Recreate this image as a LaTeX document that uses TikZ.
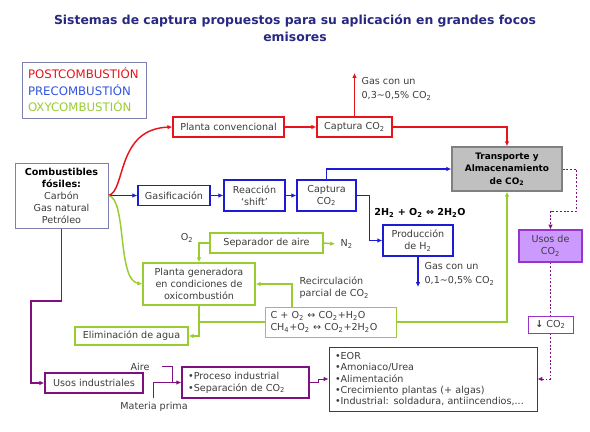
\documentclass[tikz,border=0pt]{standalone}
\usepackage{fontspec}
\setmainfont{DejaVu Sans}
\usetikzlibrary{arrows.meta}
\definecolor{rojo}{RGB}{232,20,28}
\definecolor{azul}{RGB}{28,28,215}
\definecolor{azulclaro}{RGB}{51,85,221}
\definecolor{verde}{RGB}{153,204,51}
\definecolor{morado}{RGB}{128,16,128}
\definecolor{lila}{RGB}{204,153,255}
\definecolor{lilaborde}{RGB}{153,51,204}
\definecolor{grisfondo}{RGB}{192,192,192}
\definecolor{grisborde}{RGB}{128,128,128}
\definecolor{leyendaborde}{RGB}{128,128,176}
\definecolor{titulo}{RGB}{40,40,130}
\definecolor{textogris}{RGB}{60,60,60}
\newcommand{\codos}{CO\textsubscript{2}}

\begin{document}
\begin{tikzpicture}[x=0.75pt,y=0.75pt,yscale=-1,xscale=1,
  caja/.style={draw, fill=white, line width=1.1pt, inner sep=1pt, align=center,
    font=\fontsize{7.2}{9}\selectfont, text=textogris},
  etiqueta/.style={inner sep=1pt, align=left, font=\fontsize{7.2}{9}\selectfont, text=textogris},
  flecha/.style={-{Latex[length=3.6pt,width=3.4pt]}},
  linearoja/.style={draw=rojo, line width=1.1pt, flecha},
  lineaazul/.style={draw=azul, line width=1.1pt, flecha},
  lineaverde/.style={draw=verde, line width=1.1pt, flecha},
  lineamorada/.style={draw=morado, line width=1.1pt, flecha},
  lineafina/.style={draw=morado, line width=0.6pt},
  punteado/.style={draw=morado, line width=0.6pt, dash pattern=on 1.4pt off 1.4pt, flecha}]
\path[use as bounding box] (0,0) rectangle (590,432);

% Title
\node (titulo) at (295,28.5) [align=center, text=titulo, font=\fontsize{9.3}{12.75}\selectfont\bfseries]
  {Sistemas de captura propuestos para su aplicación en grandes focos\\emisores};

%Shape: Legend
\node (leyenda) at (84,90) [draw=leyendaborde, line width=0.75pt, minimum width=93pt, minimum height=42pt,
  text width=84pt, align=left, inner sep=0pt, font=\fontsize{8.8}{12.3}\selectfont]
  {\textcolor{rojo}{POSTCOMBUSTIÓN}\\\textcolor{azulclaro}{PRECOMBUSTIÓN}\\\textcolor{verde}{OXYCOMBUSTIÓN}};

%Shape: Boxes
\node (combustibles) at (61.5,195.5) [caja, draw=leyendaborde, line width=0.75pt, minimum width=69.75pt, minimum height=48.75pt]
  {\textcolor{black}{\textbf{Combustibles}}\\\textcolor{black}{\textbf{fósiles:}}\\Carbón\\Gas natural\\Petróleo};
\node (plantaconv) at (228.5,127) [caja, draw=rojo, minimum width=83.25pt, minimum height=15pt] {Planta convencional};
\node (capturapost) at (354.5,127) [caja, draw=rojo, minimum width=56.25pt, minimum height=15pt] {Captura \codos};
\node (transporte) at (507,169) [caja, draw=grisborde, fill=grisfondo, text=black, minimum width=82.5pt, minimum height=33pt,
  font=\fontsize{6.7}{9.4}\selectfont\bfseries]
  {Transporte y\\Almacenamiento\\de \codos};
\node (gasif) at (174,195.5) [caja, draw=azul, minimum width=54pt, minimum height=15pt] {Gasificación};
\node (shift) at (254.5,195.5) [caja, draw=azul, minimum width=45.75pt, minimum height=23.25pt] {Reacción\\`shift'};
\node (capturapre) at (326.5,195.5) [caja, draw=azul, minimum width=44.25pt, minimum height=23.25pt] {Captura\\\codos};
\node (prodh) at (418,240.5) [caja, draw=azul, minimum width=52.5pt, minimum height=23.25pt] {Producción\\de H\textsubscript{2}};
\node (sepaire) at (266.5,243) [caja, draw=verde, minimum width=84.75pt, minimum height=15pt] {Separador de aire};
\node (plantaoxi) at (199,284) [caja, draw=verde, minimum width=84pt, minimum height=31.5pt]
  {Planta generadora\\en condiciones de\\oxicombustión};
\node (reaccion) at (330.5,322) [caja, draw=verde, line width=0.75pt, minimum width=98.25pt, minimum height=22.5pt,
  text width=90pt, align=left]
  {C + O\textsubscript{2} ↔ \codos+H\textsubscript{2}O\\CH\textsubscript{4}+O\textsubscript{2} ↔ \codos+2H\textsubscript{2}O};
\node (elimagua) at (131.5,336) [caja, draw=verde, minimum width=84.75pt, minimum height=13.5pt] {Eliminación de agua};
\node (usosind) at (94,383) [caja, draw=morado, minimum width=73.5pt, minimum height=15pt] {Usos industriales};
\node (proceso) at (245.5,382.5) [caja, draw=morado, minimum width=95.25pt, minimum height=23.25pt, text width=86pt, align=left]
  {•Proceso industrial\\•Separación de \codos};
\node (usosco) at (550.5,246) [caja, draw=lilaborde, fill=lila, line width=0.9pt, minimum width=47.25pt, minimum height=24pt]
  {Usos de\\\codos};
\node (flechaco) at (550.5,324.5) [caja, draw=lilaborde, line width=0.75pt, minimum width=33.75pt, minimum height=12.75pt]
  {\textbf{↓} \codos};
\node (aplicaciones) at (433,379) [caja, draw=morado, line width=0.75pt, minimum width=156pt, minimum height=48pt,
  text width=147pt, align=left, font=\fontsize{7.2}{8.6}\selectfont]
  {•EOR\\•Amoniaco/Urea\\•Alimentación\\•Crecimiento plantas (+ algas)\\•Industrial: soldadura, antiincendios,...};

% Text Node
\node (gasuno) at (360,89) [etiqueta, anchor=west, font=\fontsize{7.2}{10.5}\selectfont] {Gas con un\\0,3\textasciitilde0,5\% \codos};
\node (gasdos) at (423,274) [etiqueta, anchor=west, font=\fontsize{7.2}{10.5}\selectfont] {Gas con un\\0,1\textasciitilde0,5\% \codos};
\node (ecuacion) at (420,213) [etiqueta, text=black, font=\fontsize{7.2}{9}\selectfont\bfseries]
  {2H\textsubscript{2} + O\textsubscript{2} ⇔ 2H\textsubscript{2}O};
\node (odos) at (187,238) [etiqueta] {O\textsubscript{2}};
\node (ndos) at (335,244) [etiqueta, anchor=west, inner xsep=4pt] {N\textsubscript{2}};
\node (recirc) at (298,288) [etiqueta, anchor=west] {Recirculación\\parcial de \codos};
\node (aire) at (140,367) [etiqueta] {Aire};
\node (materia) at (154,407) [etiqueta] {Materia prima};

\coordinate (gasalto) at (354.5,73);
\coordinate (gasbajo) at (418,287);
\coordinate (recircini) at (292,307);
\coordinate (esquina) at (31,301);
\coordinate (aireini) at (162,366.5);
\coordinate (materiaini) at (153,398);
\coordinate (union) at (172,382.5);

%Lines: postcombustion
\draw[linearoja] (combustibles.east) .. controls (126,191) and (116,129) .. (plantaconv.west);
\draw[linearoja] (plantaconv.east) -- (capturapost.west);
\draw[linearoja] (capturapost.north) -- (gasalto);
\draw[linearoja] (capturapost.east) -| (transporte.north);

%Lines: precombustion
\draw[lineaazul] (combustibles.east) -- (gasif.west);
\draw[lineaazul] (gasif.east) -- (shift.west);
\draw[lineaazul] (shift.east) -- (capturapre.west);
\draw[lineaazul] (capturapre.north) |- (transporte.west);
\draw[lineaazul] (capturapre.east) -- ++(13,0) |- (prodh.west);
\draw[lineaazul] (prodh.south) -- (gasbajo);

%Lines: oxycombustion
\draw[lineaverde] (combustibles.east) .. controls (127,199) and (117,280) .. (plantaoxi.west);
\draw[lineaverde] (sepaire.west) -| (plantaoxi.north);
\draw[lineaverde] (sepaire.east) -- (ndos.west);
\draw[lineaverde] (recircini) |- (plantaoxi.east);
\draw[lineaverde] (plantaoxi.south) |- (elimagua.east);
\draw[draw=verde, line width=1.1pt] (reaccion.west) -- (reaccion.west -| plantaoxi.south);
\draw[lineaverde] (reaccion.east) -| (transporte.south);

%Lines: usos
\draw[lineamorada] (combustibles.south) |- (esquina) |- (usosind.west);
\draw[lineafina] (aireini) -| (union);
\draw[lineafina, flecha] (materiaini) |- (proceso.west);
\draw[lineafina, flecha] (proceso.east) -- ++(9,0) |- (aplicaciones.west);
\draw[punteado] (transporte.east) -- ++(14,0) -- ++(0,42) -| (usosco.north);
\draw[punteado, -] (usosco.south) -- (flechaco.north);
\draw[punteado] (flechaco.south) |- (aplicaciones.east);

\end{tikzpicture}
\end{document}
